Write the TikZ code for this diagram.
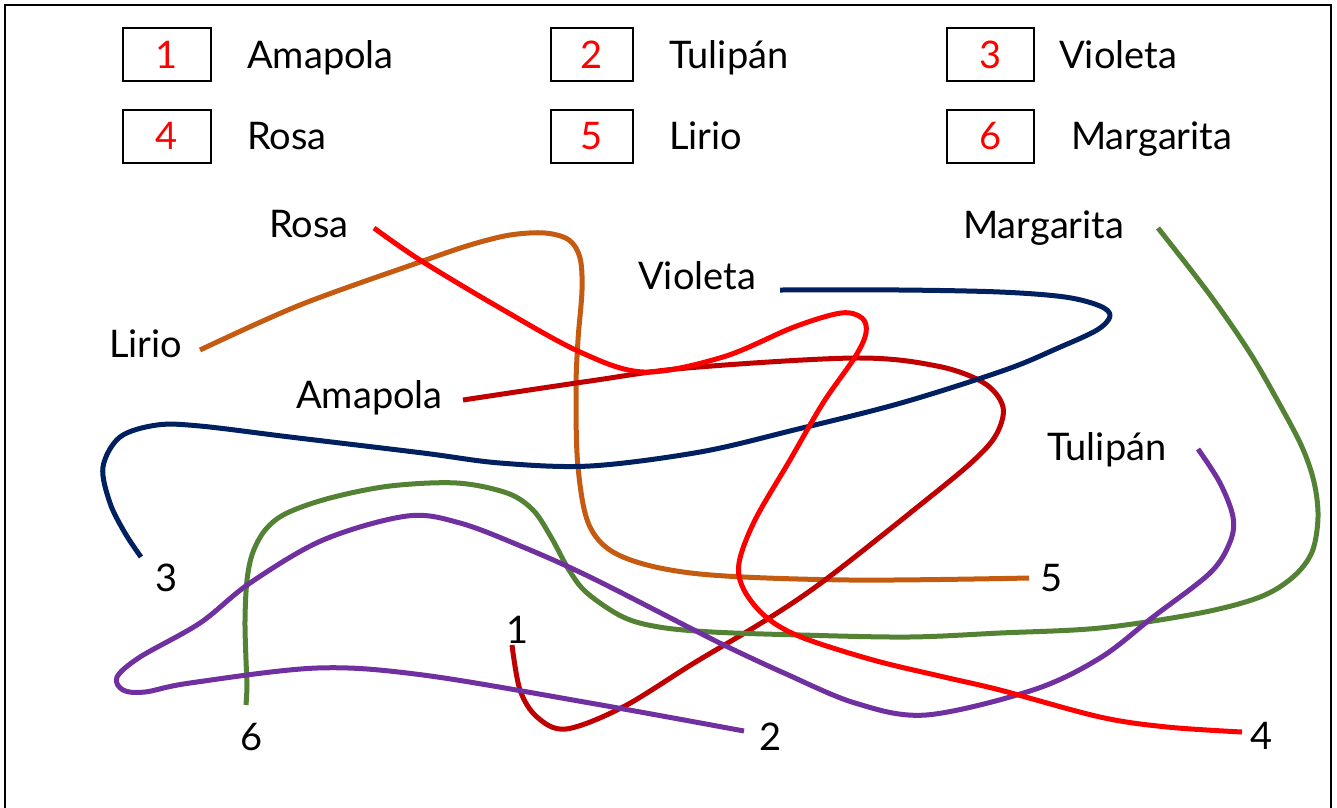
\documentclass[tikz,border=0pt]{standalone}
\usepackage{fontspec}
\setmainfont{Lato}
\definecolor{cAma}{HTML}{C00000}
\definecolor{cRosa}{HTML}{FF0000}
\definecolor{cLir}{HTML}{C55A11}
\definecolor{cVio}{HTML}{002060}
\definecolor{cMar}{HTML}{548235}
\definecolor{cTul}{HTML}{7030A0}
\begin{document}
\begin{tikzpicture}[x=1pt,y=-1pt,
  lbl/.style={font=\fontsize{38}{45}\selectfont, anchor=base west, inner sep=0pt},
  legbox/.style={draw, line width=2pt, minimum height=53pt, inner sep=0pt,
    text=red, font=\fontsize{38}{45}\selectfont},
  curve/.style={line width=5pt, line cap=butt, line join=round}]
\useasboundingbox (0,0) rectangle (1337,807);
% frame
\draw[line width=2pt] (5,812) -- (5,5) -- (1331,5) -- (1331,812);
% legend
\node[legbox, minimum width=88pt] (b1) at (167,54.5) {1};
\node[legbox, minimum width=88pt] (b4) at (167,136) {4};
\node[legbox, minimum width=82pt] (b2) at (592,54.5) {2};
\node[legbox, minimum width=82pt] (b5) at (592,136) {5};
\node[legbox, minimum width=87pt] (b3) at (990.5,54.5) {3};
\node[legbox, minimum width=87pt] (b6) at (990.5,136) {6};
\node[lbl] (l1) at (247,68) {Amapola};
\node[lbl] (l4) at (247,149) {Rosa};
\node[lbl] (l2) at (669,68) {Tulipán};
\node[lbl] (l5) at (669,149) {Lirio};
\node[lbl] (l3) at (1059,68) {Violeta};
\node[lbl] (l6) at (1071,149) {Margarita};
% labels in drawing
\node[lbl] (nRosa) at (269,237) {Rosa};
\node[lbl] (nLir) at (109,357) {Lirio};
\node[lbl] (nAma) at (296,408) {Amapola};
\node[lbl] (nVio) at (638,289) {Violeta};
\node[lbl] (nMar) at (963,238) {Margarita};
\node[lbl] (nTul) at (1047,460) {Tulipán};
\node[lbl] (d3) at (155,591) {3};
\node[lbl] (d5) at (1040,591) {5};
\node[lbl] (d1) at (506,643) {1};
\node[lbl] (d2) at (759,750) {2};
\node[lbl] (d6) at (240,750) {6};
\node[lbl] (d4) at (1250,749) {4};
% curve end points
\coordinate (rS) at (374,228); \coordinate (rE) at (1242,732);
\coordinate (aS) at (463,400); \coordinate (aE) at (512,645);
\coordinate (oS) at (200,350); \coordinate (oE) at (1029,578);
\coordinate (vS) at (780,290); \coordinate (vE) at (141,557);
\coordinate (gS) at (1158,228); \coordinate (gE) at (246,705);
\coordinate (pS) at (1198,449); \coordinate (pE) at (744,731);
% Lirio -> 5
\draw[curve, cLir] plot[smooth, tension=0.55] coordinates {(oS) (300,305) (420,262) (470,245) (510,235) (545,233) (569,240) (580,258) (582,290) (578,340) (576,390) (578,467) (590,527) (623,557) (700,574) (850,580) (oE)};
% Amapola -> 1
\draw[curve, cAma] plot[smooth, tension=0.55] coordinates {(aS) (590,381) (687,368) (855,358) (937,366) (984,383) (1003,407) (996,435) (972,462) (920,505) (825,580) (766,620) (694,663) (623,707) (566,729) (537,717) (520,690) (aE)};
% Violeta -> 3
\draw[curve, cVio] plot[smooth, tension=0.55] coordinates {(vS) (900,290) (1000,292) (1065,297) (1100,306) (1110,316) (1097,330) (1058,348) (1005,370) (901,403) (794,430) (700,452) (590,466) (500,463) (423,453) (290,437) (200,426) (157,425) (120,437) (103,467) (110,503) (125,533) (vE)};
% Margarita -> 6
\draw[curve, cMar] plot[smooth, tension=0.55] coordinates {(gS) (1210,295) (1250,353) (1280,405) (1302,447) (1314,482) (1318,517) (1312,552) (1293,577) (1260,597) (1200,613) (1100,628) (1000,633) (909,637) (801,635) (712,632) (659,627) (623,617) (587,593) (569,570) (551,537) (533,510) (507,493) (457,483) (390,486) (330,498) (287,513) (266,529) (253,552) (247,580) (245,620) (246,660) (247,685) (gE)};
% Tulipan -> 2
\draw[curve, cTul] plot[smooth, tension=0.55] coordinates {(pS) (1220,483) (1233,517) (1230,542) (1210,573) (1153,617) (1100,658) (1033,690) (926,715) (855,703) (784,673) (730,648) (694,630) (590,577) (523,547) (460,523) (407,516) (323,540) (250,583) (200,623) (140,657) (117,677) (123,690) (145,692) (190,683) (317,668) (423,675) (590,703) (pE)};
% Rosa -> 4
\draw[curve, cRosa] plot[smooth, tension=0.55] coordinates {(rS) (420,260) (500,308) (580,352) (644,372) (723,357) (794,327) (841,313) (862,318) (866,333) (855,357) (823,403) (790,460) (755,520) (739,563) (744,590) (766,617) (801,637) (873,660) (944,677) (1000,690) (1100,717) (1167,727) (rE)};
\end{tikzpicture}
\end{document}
